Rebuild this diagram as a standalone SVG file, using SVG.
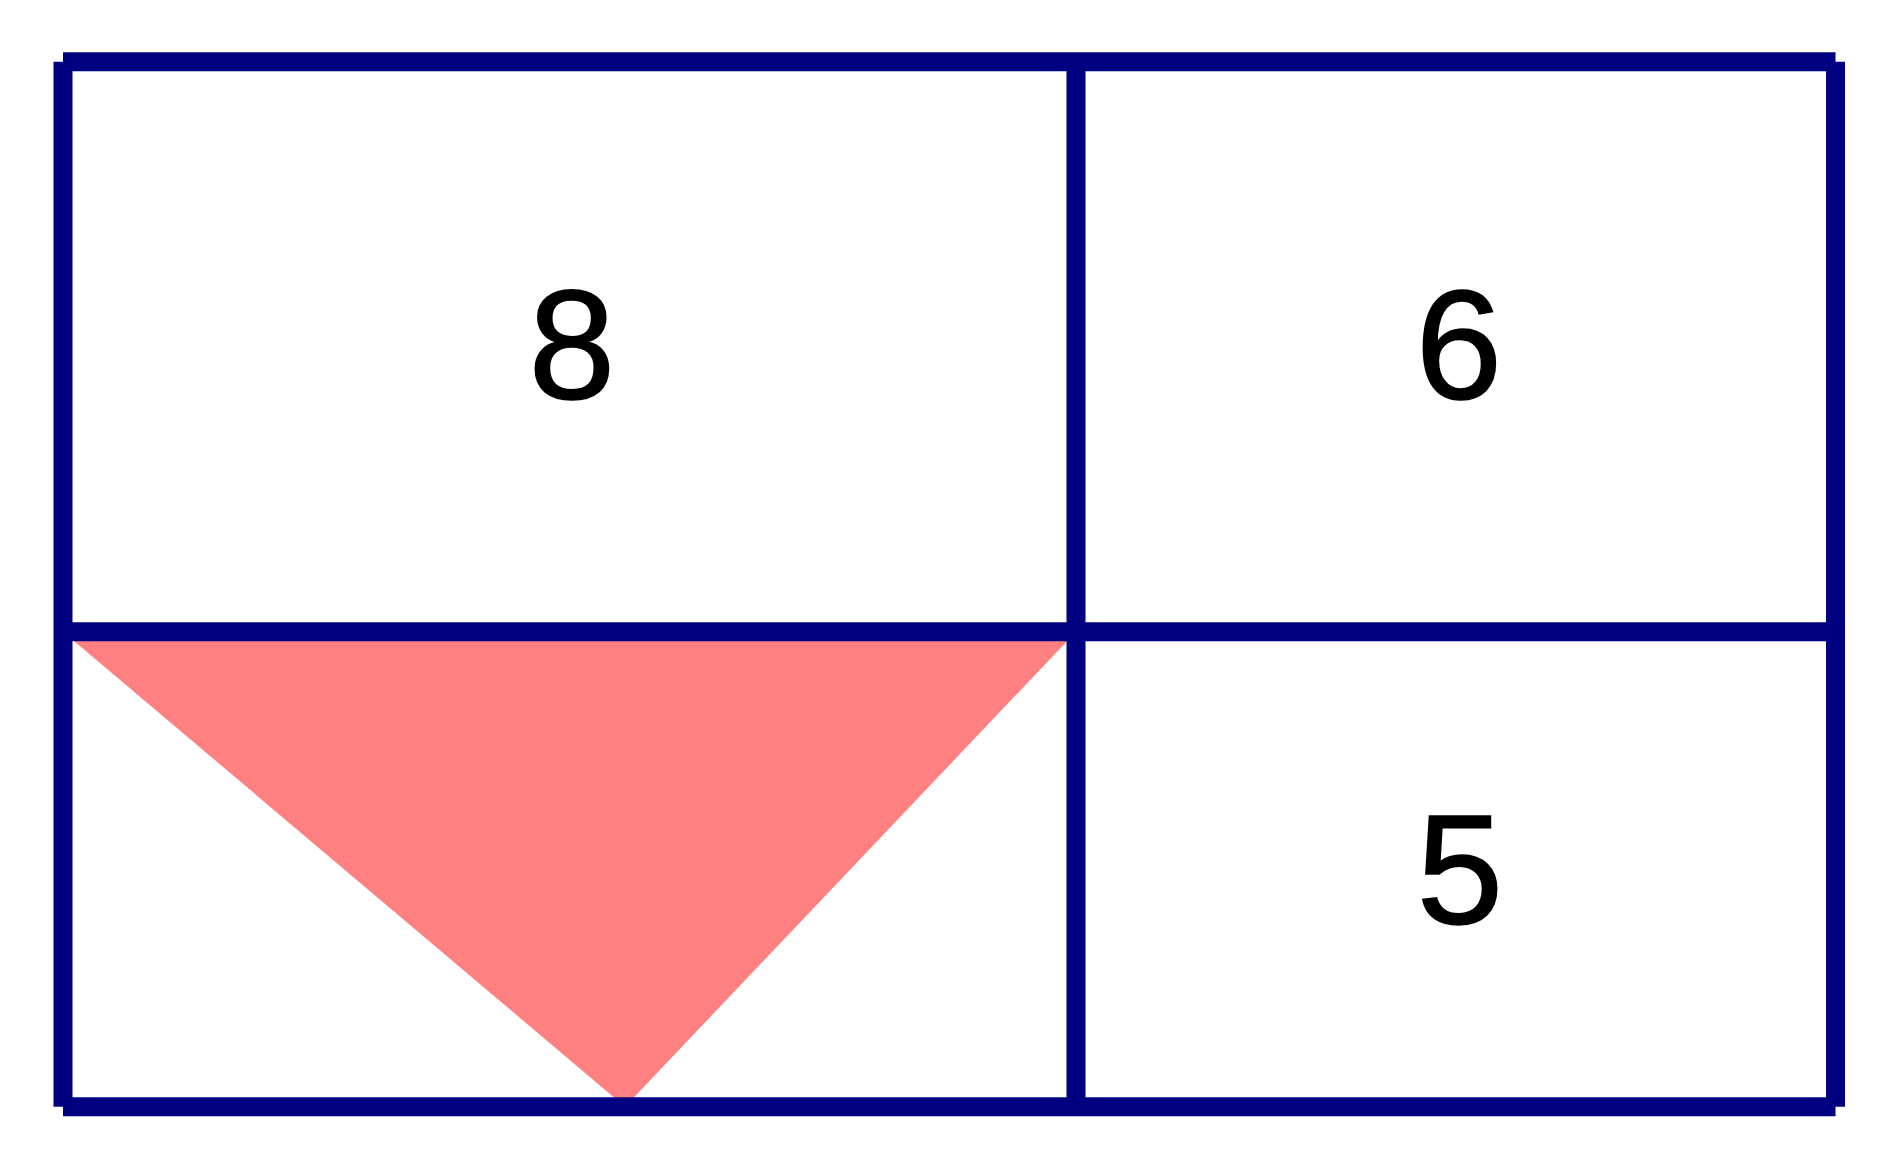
<svg xmlns="http://www.w3.org/2000/svg" width="1901" height="1170" viewBox="0 0 1901 1170">
<style>
.ln{stroke:#000080;stroke-width:19;fill:none;stroke-linecap:butt}
.num{font-family:"Liberation Sans",Arial,sans-serif;font-size:156px;fill:#000;stroke:#000;stroke-width:1.5;text-anchor:middle}
</style>
<rect width="1901" height="1170" fill="#fff"/>
<g id="triangle"><polygon points="63,631.7 1076,631.7 625,1106.7" fill="#FF8080"/></g>
<g id="connectors">
<line class="ln" x1="63" y1="61.7" x2="1835.5" y2="61.7"/>
<line class="ln" x1="63" y1="1106.7" x2="1835.5" y2="1106.7"/>
<line class="ln" x1="63" y1="61.7" x2="63" y2="1106.7"/>
<line class="ln" x1="1835.5" y1="61.7" x2="1835.5" y2="1106.7"/>
<line class="ln" x1="63" y1="631.7" x2="1835.5" y2="631.7"/>
<line class="ln" x1="1076" y1="61.7" x2="1076" y2="1106.7"/>
</g>
<g id="cell-8"><text class="num" x="572" y="398">8</text></g>
<g id="cell-6"><text class="num" x="1459" y="398">6</text></g>
<g id="cell-5"><text class="num" x="1460" y="923">5</text></g>
</svg>
